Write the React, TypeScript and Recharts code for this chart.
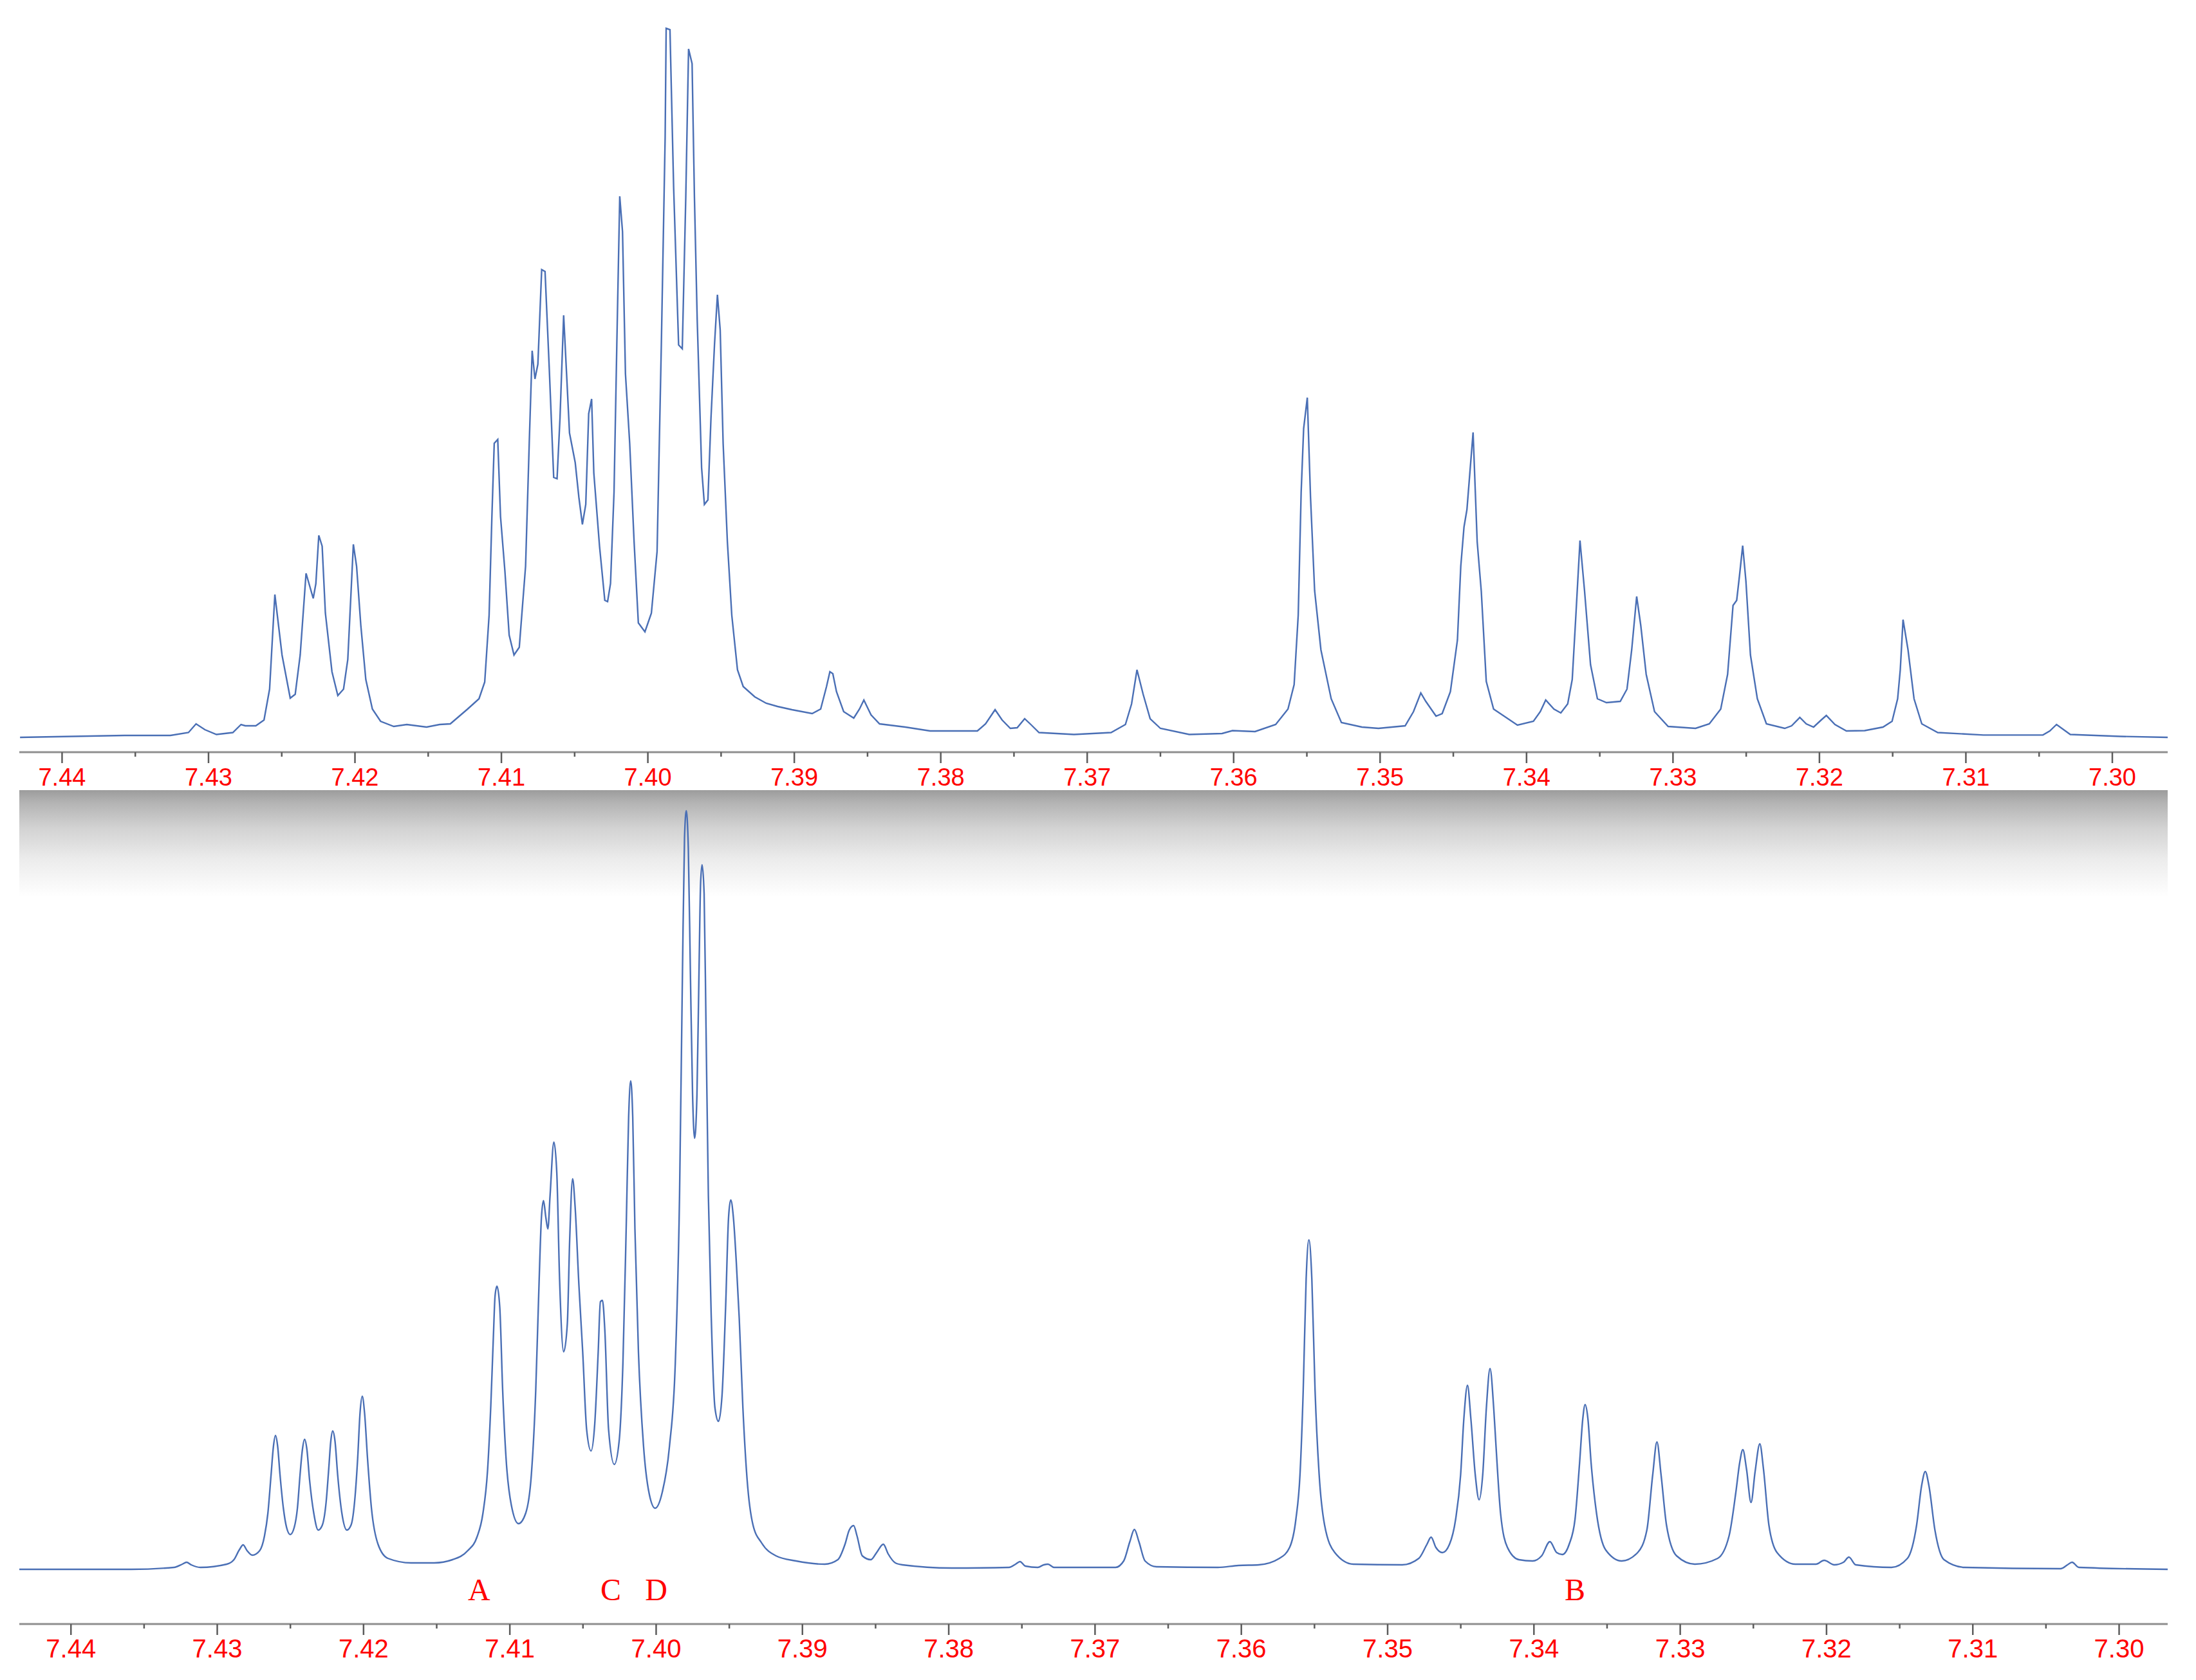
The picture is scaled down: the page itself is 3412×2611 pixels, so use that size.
import React from 'react';
import { LineChart, Line, XAxis, YAxis, ReferenceDot } from 'recharts';

// upper trace (measured spectrum), chemical shift in ppm and intensity (arb. units)
const topPpm = [
  7.44287, 7.43574, 7.4326, 7.43137, 7.43085, 7.43025, 7.42946, 7.42834, 7.42778, 7.42749,
  7.42677, 7.42621, 7.42583, 7.42547, 7.42498, 7.42442, 7.42408, 7.42374, 7.42334, 7.42285,
  7.42267, 7.42247, 7.42224, 7.42202, 7.42157, 7.42117, 7.42078, 7.42049, 7.42011, 7.41989,
  7.4196, 7.41926, 7.41881, 7.41825, 7.41735, 7.41646, 7.41511, 7.41422, 7.41349, 7.41231,
  7.41153, 7.41114, 7.41084, 7.41065, 7.41049, 7.41025, 7.41006, 7.40976, 7.40947, 7.40914,
  7.40878, 7.40835, 7.4081, 7.4079, 7.40771, 7.40751, 7.40725, 7.40702, 7.40673, 7.40643,
  7.4062, 7.406, 7.40575, 7.40555, 7.40535, 7.40496, 7.40471, 7.40447, 7.40424, 7.40404,
  7.40384, 7.40369, 7.4033, 7.40294, 7.40275, 7.40255, 7.40231, 7.40212, 7.40192, 7.40173,
  7.40153, 7.40124, 7.40094, 7.40065, 7.4002, 7.39976, 7.39937, 7.39908, 7.39882, 7.39875,
  7.39849, 7.39824, 7.3979, 7.39765, 7.39741, 7.39722, 7.39698, 7.39682, 7.39663, 7.39633,
  7.39614, 7.3959, 7.39569, 7.39545, 7.39525, 7.39506, 7.39486, 7.39457, 7.39427, 7.39388,
  7.39349, 7.3927, 7.39192, 7.39114, 7.39016, 7.38878, 7.3882, 7.3878, 7.38757, 7.38737,
  7.38712, 7.38663, 7.38594, 7.38555, 7.38525, 7.38476, 7.38418, 7.38242, 7.38073, 7.3775,
  7.37694, 7.37629, 7.37581, 7.37525, 7.37478, 7.37427, 7.37385, 7.37329, 7.3709, 7.36837,
  7.36739, 7.36697, 7.3666, 7.36618, 7.3657, 7.365, 7.36303, 7.36079, 7.36008, 7.35854,
  7.35713, 7.35629, 7.35587, 7.35559, 7.35539, 7.35522, 7.35497, 7.35475, 7.35447, 7.35404,
  7.35334, 7.35264, 7.35124, 7.35011, 7.34829, 7.34772, 7.34722, 7.34688, 7.34618, 7.34576,
  7.3452, 7.34472, 7.34449, 7.34427, 7.34407, 7.34365, 7.34337, 7.34309, 7.34275, 7.34225,
  7.34062, 7.33953, 7.33906, 7.33869, 7.33813, 7.33766, 7.33719, 7.33688, 7.33663, 7.33635,
  7.33604, 7.33563, 7.33516, 7.33454, 7.3336, 7.33314, 7.33282, 7.33248, 7.3322, 7.33183,
  7.33126, 7.33033, 7.32846, 7.32752, 7.32674, 7.32627, 7.3259, 7.32565, 7.32546, 7.32524,
  7.32502, 7.32471, 7.32424, 7.32362, 7.32237, 7.3219, 7.32134, 7.3209, 7.3204, 7.31988,
  7.31953, 7.31894, 7.31816, 7.31691, 7.31566, 7.31504, 7.31466, 7.31448, 7.31429, 7.31395,
  7.31354, 7.31301, 7.31192, 7.3088, 7.30474, 7.30427, 7.30381, 7.30287, 7.29944, 7.29616,
];
const topIntensity = [
  2.3, 2.6, 2.6, 3.05, 4.4, 3.5, 2.75, 3.05, 4.3, 4.1,
  4.1, 5.0, 9.8, 24.5, 15.1, 8.4, 9.0, 15.1, 27.8, 23.9,
  26.2, 33.7, 32.0, 21.6, 12.5, 8.8, 9.8, 14.4, 32.3, 28.9,
  19.7, 11.3, 6.7, 4.8, 4.0, 4.3, 3.9, 4.3, 4.4, 6.7,
  8.3, 10.9, 21.3, 36.6, 48.0, 48.6, 36.6, 28.1, 18.2, 15.1,
  16.3, 28.9, 48.0, 62.4, 58.0, 60.3, 75.0, 74.7, 59.5, 42.7,
  42.5, 51.9, 67.9, 58.8, 49.6, 45.0, 39.6, 35.4, 38.5, 52.6,
  54.9, 43.4, 32.0, 23.6, 23.4, 26.2, 40.4, 63.3, 86.4, 80.9,
  58.8, 48.0, 32.7, 20.1, 18.7, 21.6, 31.2, 63.3, 95.5, 112.5,
  112.3, 87.8, 63.3, 62.7, 86.3, 109.3, 107.0, 86.3, 67.2, 44.2,
  38.5, 39.2, 51.9, 63.3, 71.1, 65.6, 48.0, 32.7, 21.3, 12.8,
  10.2, 8.6, 7.6, 7.1, 6.6, 6.0, 6.7, 10.2, 12.5, 12.2,
  9.4, 6.3, 5.3, 6.7, 8.1, 5.8, 4.4, 3.9, 3.3, 3.3,
  4.4, 6.6, 5.0, 3.7, 3.8, 5.2, 4.3, 3.05, 2.75, 3.05,
  4.3, 7.5, 12.8, 9.0, 5.2, 3.7, 2.75, 2.9, 3.35, 3.2,
  4.3, 6.7, 10.5, 21.3, 40.4, 50.3, 55.1, 39.6, 25.1, 15.9,
  8.3, 4.6, 3.9, 3.7, 4.1, 6.3, 9.2, 7.9, 5.6, 6.0,
  9.4, 17.4, 28.9, 35.0, 37.7, 49.7, 32.7, 25.0, 11.0, 6.7,
  4.2, 4.8, 6.3, 8.1, 6.7, 6.1, 7.5, 11.3, 21.3, 32.9,
  25.1, 13.6, 8.3, 7.7, 7.9, 9.8, 15.9, 24.2, 19.7, 12.1,
  6.3, 4.0, 3.7, 4.4, 6.7, 12.1, 22.8, 23.6, 27.4, 32.1,
  26.6, 15.1, 8.3, 4.4, 3.7, 4.1, 5.4, 4.4, 3.9, 5.0,
  5.7, 4.3, 3.3, 3.35, 3.9, 4.8, 8.3, 12.8, 20.6, 15.9,
  8.3, 4.4, 3.05, 2.66, 2.66, 3.3, 4.3, 2.75, 2.45, 2.3,
];

// lower trace (simulated spectrum)
const bottomPpm = [
  7.44353, 7.43588, 7.43296, 7.43239, 7.4321, 7.43178, 7.43115, 7.42935, 7.42886, 7.4285,
  7.42823, 7.42796, 7.4276, 7.4271, 7.42677, 7.42654, 7.42632, 7.42616, 7.42602, 7.42587,
  7.42571, 7.42548, 7.42526, 7.42501, 7.42474, 7.42452, 7.42434, 7.42418, 7.42403, 7.42387,
  7.42369, 7.4234, 7.4231, 7.42283, 7.42256, 7.42238, 7.42224, 7.42211, 7.42195, 7.42177,
  7.42148, 7.42114, 7.42085, 7.42058, 7.4204, 7.42024, 7.42009, 7.41993, 7.41973, 7.41946,
  7.41901, 7.41833, 7.41675, 7.41517, 7.41392, 7.41288, 7.41225, 7.41184, 7.41152, 7.4113,
  7.41112, 7.41101, 7.41088, 7.41069, 7.41049, 7.41026, 7.4099, 7.40941, 7.40892, 7.40853,
  7.40823, 7.40803, 7.40784, 7.4077, 7.40754, 7.4074, 7.40725, 7.40699, 7.40679, 7.4066,
  7.40632, 7.40607, 7.40591, 7.40571, 7.40554, 7.40528, 7.40502, 7.40475, 7.40445, 7.4042,
  7.40396, 7.40381, 7.40367, 7.40351, 7.40325, 7.40286, 7.40253, 7.40227, 7.40204, 7.40188,
  7.40174, 7.4016, 7.40145, 7.40121, 7.40086, 7.40047, 7.40007, 7.39958, 7.39909, 7.39869,
  7.3984, 7.3982, 7.39806, 7.39794, 7.3978, 7.39766, 7.39751, 7.39737, 7.39721, 7.39707,
  7.39696, 7.39686, 7.39672, 7.39659, 7.39643, 7.39623, 7.39598, 7.39574, 7.3955, 7.39525,
  7.39505, 7.3949, 7.39472, 7.39452, 7.39432, 7.39407, 7.39378, 7.39338, 7.39279, 7.39181,
  7.39043, 7.38847, 7.38758, 7.38709, 7.3868, 7.3865, 7.38627, 7.38591, 7.38532, 7.38493,
  7.38447, 7.38414, 7.38365, 7.38317, 7.3798, 7.37588, 7.37543, 7.37513, 7.37476, 7.37392,
  7.3735, 7.37322, 7.3728, 7.3686, 7.36804, 7.36762, 7.36731, 7.367, 7.36658, 7.3658,
  7.3616, 7.3602, 7.3588, 7.3574, 7.3567, 7.35627, 7.35599, 7.35577, 7.35557, 7.35538,
  7.35518, 7.35496, 7.35468, 7.35431, 7.35361, 7.35235, 7.349, 7.34787, 7.34731, 7.34703,
  7.3467, 7.34625, 7.34577, 7.34535, 7.34501, 7.34479, 7.34454, 7.34431, 7.34401, 7.34375,
  7.3435, 7.34325, 7.343, 7.34275, 7.34259, 7.34228, 7.34181, 7.34103, 7.34009, 7.33947,
  7.33891, 7.33844, 7.33806, 7.33759, 7.33719, 7.33688, 7.33666, 7.3365, 7.33631, 7.33609,
  7.33572, 7.33509, 7.334, 7.33291, 7.33228, 7.33188, 7.33159, 7.33131, 7.33094, 7.33025,
  7.329, 7.32744, 7.32666, 7.32619, 7.32594, 7.32572, 7.32547, 7.32516, 7.32488, 7.32456,
  7.32431, 7.32394, 7.32338, 7.32213, 7.32072, 7.32016, 7.31947, 7.31884, 7.31847, 7.318,
  7.31556, 7.31447, 7.31384, 7.3135, 7.31325, 7.313, 7.31259, 7.31197, 7.31056, 7.304,
  7.30353, 7.30322, 7.30275, 7.29666,
];
const bottomIntensity = [
  8.5, 8.5, 8.8, 9.3, 9.6, 9.2, 8.8, 9.3, 10.0, 11.5,
  12.3, 11.4, 10.7, 11.4, 13.7, 17.2, 23.2, 27.6, 29.3, 27.6,
  23.2, 18.0, 15.0, 13.9, 15.0, 18.0, 23.2, 27.1, 28.7, 27.1,
  22.4, 17.2, 14.6, 15.3, 18.9, 24.1, 28.4, 30.0, 28.4, 23.2,
  17.2, 14.6, 15.4, 19.8, 25.8, 32.8, 35.4, 32.8, 25.8, 18.0,
  12.4, 10.2, 9.5, 9.5, 10.0, 11.4, 13.5, 17.2, 24.0, 34.0,
  45.0, 51.0, 52.5, 49.3, 36.3, 25.8, 18.5, 15.6, 17.2, 23.2,
  36.3, 51.0, 63.2, 65.8, 63.2, 61.4, 66.6, 74.9, 70.1, 53.6,
  42.3, 46.7, 59.7, 69.2, 64.9, 52.7, 42.3, 30.2, 26.9, 31.0,
  42.3, 50.1, 50.3, 45.8, 30.2, 24.8, 28.4, 40.6, 62.3, 78.8,
  84.4, 78.8, 61.4, 42.3, 27.6, 20.2, 18.0, 20.5, 27.6, 40.6,
  66.6, 101.4, 122.2, 126.4, 120.5, 101.4, 82.3, 75.5, 82.3, 101.4,
  115.2, 118.0, 113.5, 92.7, 66.6, 47.5, 33.6, 31.5, 35.4, 49.3,
  63.2, 65.9, 63.2, 56.2, 47.5, 33.6, 22.4, 15.4, 12.6, 10.6,
  9.8, 9.3, 10.0, 12.4, 14.6, 15.3, 13.7, 10.6, 10.0, 11.1,
  12.4, 10.9, 9.5, 9.2, 8.7, 8.8, 9.3, 9.7, 9.0, 8.8,
  9.2, 9.3, 8.8, 8.8, 9.8, 12.8, 14.7, 12.8, 9.8, 8.9,
  8.8, 9.1, 9.2, 10.2, 11.9, 16.3, 23.2, 36.3, 53.6, 59.7,
  53.6, 36.3, 23.2, 15.4, 11.1, 9.3, 9.2, 10.2, 12.4, 13.5,
  11.9, 11.1, 12.4, 16.3, 23.2, 31.9, 37.1, 31.9, 23.2, 19.3,
  23.2, 33.6, 39.7, 33.6, 27.6, 17.2, 11.9, 10.0, 9.8, 10.6,
  12.8, 11.1, 10.8, 12.4, 16.3, 25.0, 31.9, 34.1, 31.9, 25.0,
  17.2, 11.5, 9.8, 11.1, 14.6, 23.2, 28.3, 23.2, 15.4, 10.6,
  9.3, 10.2, 13.7, 20.6, 25.0, 27.1, 24.1, 18.9, 23.7, 28.0,
  24.1, 15.4, 11.1, 9.3, 9.3, 9.9, 9.2, 9.6, 10.4, 9.2,
  8.8, 10.2, 15.4, 21.5, 23.7, 21.5, 14.6, 10.0, 8.8, 8.6,
  9.2, 9.6, 8.8, 8.5,
];

const majorTicks = [7.44, 7.43, 7.42, 7.41, 7.40, 7.39, 7.38, 7.37, 7.36, 7.35, 7.34, 7.33, 7.32, 7.31, 7.30];
const tickLabels = ['7.44', '7.43', '7.42', '7.41', '7.40', '7.39', '7.38', '7.37', '7.36', '7.35', '7.34', '7.33', '7.32', '7.31', '7.30'];
const minorTicks = [7.435, 7.425, 7.415, 7.405, 7.395, 7.385, 7.375, 7.365, 7.355, 7.345, 7.335, 7.325, 7.315, 7.305];

const peakLetters = ['A', 'C', 'D', 'B'];
const peakLetterPpm = [7.4121, 7.4031, 7.4, 7.3372];

const topRows = topPpm.map((ppm, i) => ({ ppm, intensity: topIntensity[i] }));
const bottomRows = bottomPpm.map((ppm, i) => ({ ppm, intensity: bottomIntensity[i] }));
const allTicks = [...majorTicks, ...minorTicks].sort((a, b) => b - a);

const RED = '#ff0000';
const TRACE = '#4a6fb5';

const PpmTick = (props: any) => {
  const { x, y, payload, fontSize } = props;
  const idx = majorTicks.findIndex((t) => Math.abs(t - payload.value) < 1e-6);
  const major = idx >= 0;
  return (
    <g>
      <line x1={x} x2={x} y1={y} y2={y + (major ? 17 : 7)} stroke="#5c5c5c" strokeWidth={2.5} />
      {major && (
        <text
          x={x}
          y={y + 52}
          textAnchor="middle"
          fill={RED}
          fontSize={fontSize}
          fontFamily="'Liberation Sans', Arial, sans-serif"
        >
          {tickLabels[idx]}
        </text>
      )}
    </g>
  );
};

type PanelProps = {
  rows: { ppm: number; intensity: number }[];
  domain: [number, number];
  yMax: number;
  height: number;
  marginTop: number;
  axisHeight: number;
  curve: 'linear' | 'monotone';
  labelSize: number;
  letters?: boolean;
};

const SpectrumPanel = ({ rows, domain, yMax, height, marginTop, axisHeight, curve, labelSize, letters }: PanelProps) => (
  <LineChart width={3412} height={height} data={rows} margin={{ top: marginTop, right: 44, bottom: 0, left: 30 }}>
    <XAxis
      dataKey="ppm"
      type="number"
      domain={domain}
      reversed
      allowDataOverflow
      ticks={allTicks}
      interval={0}
      tickSize={0}
      tickMargin={0}
      tickLine={false}
      tick={<PpmTick fontSize={labelSize} />}
      axisLine={{ stroke: '#8f8f8f', strokeWidth: 3 }}
      height={axisHeight}
    />
    <YAxis hide type="number" domain={[0, yMax]} allowDataOverflow />
    <Line
      type={curve}
      dataKey="intensity"
      stroke={TRACE}
      strokeWidth={2.4}
      dot={false}
      isAnimationActive={false}
    />
    {letters &&
      peakLetters.map((letter, i) => (
        <ReferenceDot
          key={letter}
          x={peakLetterPpm[i]}
          y={3.7}
          r={0}
          ifOverflow="visible"
          shape={(p: any) => (
            <text
              x={p.cx}
              y={p.cy}
              textAnchor="middle"
              fill={RED}
              fontSize={48}
              fontFamily="'Liberation Serif', 'Times New Roman', serif"
            >
              {letter}
            </text>
          )}
        />
      ))}
  </LineChart>
);

export default function App() {
  return (
    <div style={{ position: 'absolute', left: 0, top: 0, width: 3412, height: 2611, background: '#fff', overflow: 'hidden' }}>
      <div
        style={{
          position: 'absolute',
          left: 30,
          top: 1228,
          width: 3338,
          height: 166,
          background: 'linear-gradient(to bottom, #9c9c9c 0%, #b4b4b4 12%, #d2d2d2 35%, #ececec 65%, #ffffff 100%)',
        }}
      />
      <div style={{ position: 'absolute', left: 0, top: 0 }}>
        <SpectrumPanel
          rows={topRows}
          domain={[7.29622, 7.44292]}
          yMax={115}
          height={1280}
          marginTop={19}
          axisHeight={111}
          curve="linear"
          labelSize={38}
        />
      </div>
      <div style={{ position: 'absolute', left: 0, top: 1250 }}>
        <SpectrumPanel
          rows={bottomRows}
          domain={[7.29668, 7.44353]}
          yMax={127}
          height={1361}
          marginTop={4}
          axisHeight={87}
          curve="monotone"
          labelSize={40}
          letters
        />
      </div>
    </div>
  );
}
